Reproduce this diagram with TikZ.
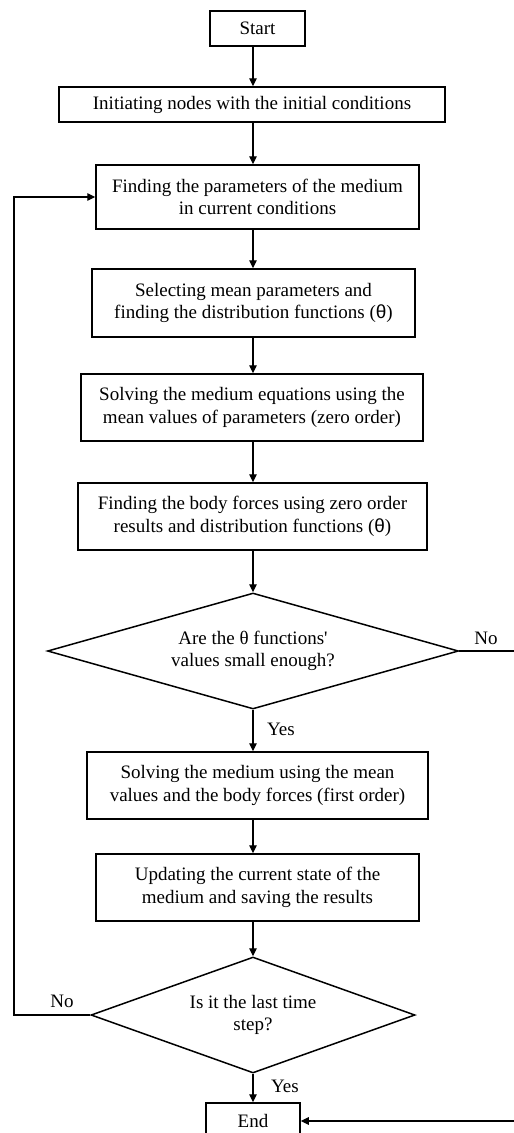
\documentclass[tikz,border=0pt]{standalone}
\usepackage{fontspec}
\setmainfont{Liberation Serif}
\newfontfamily\thsans{Liberation Sans}
\newfontfamily\plainserif{Liberation Serif}
\usetikzlibrary{shapes.geometric,arrows.meta}
\begin{document}
\begin{tikzpicture}[x=1pt,y=-1pt,
  font=\fontsize{19}{22.7}\selectfont,
  box/.style={draw,line width=1.5pt,inner sep=0pt,align=center},
  dec/.style={draw,line width=1.5pt,shape=diamond,inner sep=0pt,align=center},
  arr/.style={line width=1.1pt,-{Triangle[length=8pt,width=7.5pt]}},
  lbl/.style={inner sep=0pt}]
\useasboundingbox (0,0) rectangle (514,1133);
\clip (0,0) rectangle (514,1133);
\coordinate (ax) at (253,0);
\coordinate (lp) at (14,0);
\coordinate (rp) at (520,0);
\node[box,minimum width=95pt,minimum height=35pt] (start) at (257.5,28.5) {Start};
\node[box,minimum width=386pt,minimum height=35pt] (init) at (252,104.5) {Initiating nodes with the initial conditions};
\node[box,minimum width=323pt,minimum height=64pt] (find) at (257.5,197) {Finding the parameters of the medium\\in current conditions};
\node[box,minimum width=323pt,minimum height=68pt] (sel) at (253.5,303) {Selecting mean parameters and\\finding the distribution functions ({\thsans θ})};
\node[box,minimum width=342pt,minimum height=67pt] (solz) at (252,407.5) {Solving the medium equations using the\\mean values of parameters (zero order)};
\node[box,minimum width=349pt,minimum height=67pt] (body) at (252.5,516.5) {Finding the body forces using zero order\\results and distribution functions ({\thsans θ})};
\node[dec,aspect=3.5,minimum width=411pt,minimum height=116pt] (d1) at (253,651) {Are the θ functions{\plainserif '}\\values small enough?};
\node[box,minimum width=341pt,minimum height=67pt] (solf) at (257.5,785.5) {Solving the medium using the mean\\values and the body forces (first order)};
\node[box,minimum width=323pt,minimum height=67pt] (upd) at (257.5,887.5) {Updating the current state of the\\medium and saving the results};
\node[dec,aspect=2.8,minimum width=324pt,minimum height=116pt] (d2) at (253,1015) {Is it the last time\\step?};
\node[box,minimum width=94pt,minimum height=36pt] (end) at (253,1121) {End};
\node[lbl] (no1) at (486,638) {No};
\node[lbl] (yes1) at (281,729) {Yes};
\node[lbl] (no2) at (62,1001) {No};
\node[lbl] (yes2) at (285,1086) {Yes};
\draw[arr] (start.south -| ax) -- (init.north -| ax);
\draw[arr] (init.south -| ax) -- (find.north -| ax);
\draw[arr] (find.south -| ax) -- (sel.north -| ax);
\draw[arr] (sel.south -| ax) -- (solz.north -| ax);
\draw[arr] (solz.south -| ax) -- (body.north -| ax);
\draw[arr] (body.south -| ax) -- (d1.north);
\draw[arr] (d1.south) -- (solf.north -| ax);
\draw[arr] (solf.south -| ax) -- (upd.north -| ax);
\draw[arr] (upd.south -| ax) -- (d2.north);
\draw[arr] (d2.south) -- (end.north);
\draw[arr] (d2.west) -- (d2.west -| lp) |- (find.west);
\draw[arr] (d1.east) -- (d1.east -| rp) |- (end.east);
\end{tikzpicture}
\end{document}
